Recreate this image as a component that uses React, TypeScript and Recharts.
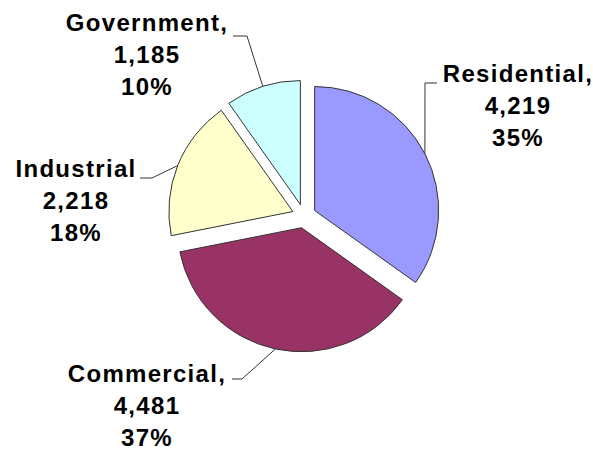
import { PieChart, Pie, Cell, Sector } from "recharts";

const categories = ["Residential", "Commercial", "Industrial", "Government"];
const values = [4219, 4481, 2218, 1185];
const colors = ["#9999FF", "#993366", "#FFFFCC", "#CCFFFF"];
const trailing = [",", ",", "", ","];

// label layout: text center x, first line center y, elbow x, horizontal end x, line y
const labelLayout = [
  { x: 518, y: 73, elbowX: 425, endX: 437, lineY: 83 },
  { x: 147, y: 373, elbowX: 242, endX: 232, lineY: 379 },
  { x: 76, y: 168, elbowX: 152, endX: 140, lineY: 178 },
  { x: 147, y: 22, elbowX: 247, endX: 233, lineY: 36 },
];

const data = categories.map((name, i) => ({ name, value: values[i] }));

const RADIAN = Math.PI / 180;
const EXPLODE = 12;

const offset = (midAngle: number) => ({
  dx: EXPLODE * Math.cos(-midAngle * RADIAN),
  dy: EXPLODE * Math.sin(-midAngle * RADIAN),
});

const renderShape = (props: any) => {
  const { dx, dy } = offset(props.midAngle);
  return <Sector {...props} cx={props.cx + dx} cy={props.cy + dy} />;
};

const renderLabel = (props: any) => {
  const { cx, cy, midAngle, outerRadius, index, value, percent, name } = props;
  const { dx, dy } = offset(midAngle);
  const sx = cx + dx + outerRadius * Math.cos(-midAngle * RADIAN);
  const sy = cy + dy + outerRadius * Math.sin(-midAngle * RADIAN);
  const l = labelLayout[index];
  const lines = [
    name + trailing[index],
    Number(value).toLocaleString("en-US"),
    Math.round(percent * 100) + "%",
  ];
  return (
    <g>
      <polyline
        points={`${sx},${sy} ${l.elbowX},${l.lineY} ${l.endX},${l.lineY}`}
        fill="none"
        stroke="#333"
        strokeWidth={1}
      />
      <text
        x={l.x}
        y={l.y + 8.5}
        textAnchor="middle"
        fill="#000"
        fontFamily="'Liberation Sans', Arial, sans-serif"
        fontWeight="bold"
        fontSize={24}
        letterSpacing={1.3}
      >
        {lines.map((t, i) => (
          <tspan key={i} x={l.x} dy={i === 0 ? 0 : 32}>
            {t}
          </tspan>
        ))}
      </text>
    </g>
  );
};

export default function App() {
  return (
    <div style={{ position: "absolute", left: 0, top: 0, background: "#fff" }}>
      <PieChart width={593} height={450} margin={{ top: 0, right: 0, bottom: 0, left: 0 }}>
        <Pie
          data={data}
          dataKey="value"
          nameKey="name"
          cx={304}
          cy={216}
          outerRadius={124}
          startAngle={90}
          endAngle={-270}
          stroke="#333"
          strokeWidth={1}
          shape={renderShape}
          label={renderLabel}
          labelLine={false}
          isAnimationActive={false}
        >
          {data.map((d, i) => (
            <Cell key={d.name} fill={colors[i]} />
          ))}
        </Pie>
      </PieChart>
    </div>
  );
}
